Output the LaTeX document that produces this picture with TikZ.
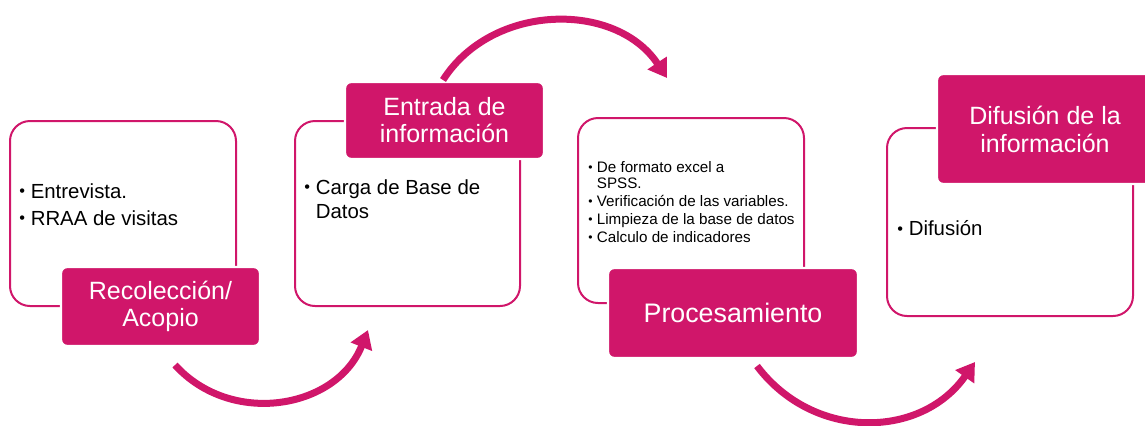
\documentclass[tikz,border=0pt]{standalone}
\usepackage{fontspec}
\usepackage{graphicx}
\setmainfont{Liberation Sans}
\usetikzlibrary{arrows.meta}
\definecolor{rosa}{RGB}{208,22,106}
\newcommand{\vin}{\raisebox{0.07em}{\scalebox{0.8}{•}}\ }

\begin{document}
\begin{tikzpicture}[x=0.5pt, y=0.5pt,
    caja/.style={draw=rosa, line width=1pt, rounded corners=10pt, inner sep=0pt},
    etiqueta/.style={fill=rosa, draw=white, line width=1.2pt, rounded corners=3pt, text=white,
        align=center, inner sep=0pt, font=\fontsize{12.5}{13.5}\selectfont},
    texto/.style={anchor=north west, align=left, inner sep=0pt, font=\fontsize{10.2}{13.5}\selectfont},
    flecha/.style={draw=rosa, line width=3.5pt, -{Triangle[length=9pt,width=11pt]}}]
    \useasboundingbox (0,0) rectangle (1145,-425);

    % cajas
    \node[caja, minimum width=113pt, minimum height=92.5pt] (caja1) at (123,-213.5) {};
    \node[caja, minimum width=112.5pt, minimum height=92.5pt] (caja2) at (407.5,-213.5) {};
    \node[caja, minimum width=113pt, minimum height=92.5pt] (caja3) at (691,-210.5) {};
    \node[caja, minimum width=123pt, minimum height=94pt] (caja4) at (1010,-222) {};

    % contenido
    \node[texto] (txt1) at (19,-183) {\vin Entrevista.\\\vin RRAA de visitas};
    \node[texto, font=\fontsize{10.2}{12}\selectfont] (txt2) at (304,-179)
        {\vin Carga de Base de\\\hphantom{\vin}Datos};
    \node[texto, font=\fontsize{7.6}{8}\selectfont] (txt3) at (588,-161)
        {\vin De formato excel a\\\hphantom{\vin}SPSS.\\[1pt]\vin Verificación de las variables.\\[1pt]
         \vin Limpieza de la base de datos\\[1pt]\vin Calculo de indicadores};
    \node[texto] (txt4) at (897,-220) {\vin Difusión};

    % etiquetas
    \node[etiqueta, minimum width=99.5pt, minimum height=39.5pt] (etq1) at (160.5,-306.5) {Recolección/\\Acopio};
    \node[etiqueta, minimum width=99.5pt, minimum height=38.5pt] (etq2) at (444.5,-120.5) {Entrada de\\información};
    \node[etiqueta, minimum width=125pt, minimum height=45pt, font=\fontsize{13.4}{15}\selectfont] (etq3) at (733,-313) {Procesamiento};
    \node[etiqueta, minimum width=108pt, minimum height=55pt, font=\fontsize{12.5}{14}\selectfont] (etq4) at (1045,-129) {Difusión de la\\información};

    % flechas
    \coordinate (f1a) at (175,-365);
    \coordinate (f1b) at (368,-330);
    \coordinate (f2a) at (443,-80);
    \coordinate (f2b) at (667,-78);
    \coordinate (f3a) at (757,-366);
    \coordinate (f3b) at (975,-362);
    \draw[flecha] (f1a) to[bend right=58, looseness=1.1] (f1b);
    \draw[flecha] (f2a) to[bend left=57, looseness=1.05] (f2b);
    \draw[flecha] (f3a) to[bend right=54, looseness=1.1] (f3b);
\end{tikzpicture}
\end{document}
